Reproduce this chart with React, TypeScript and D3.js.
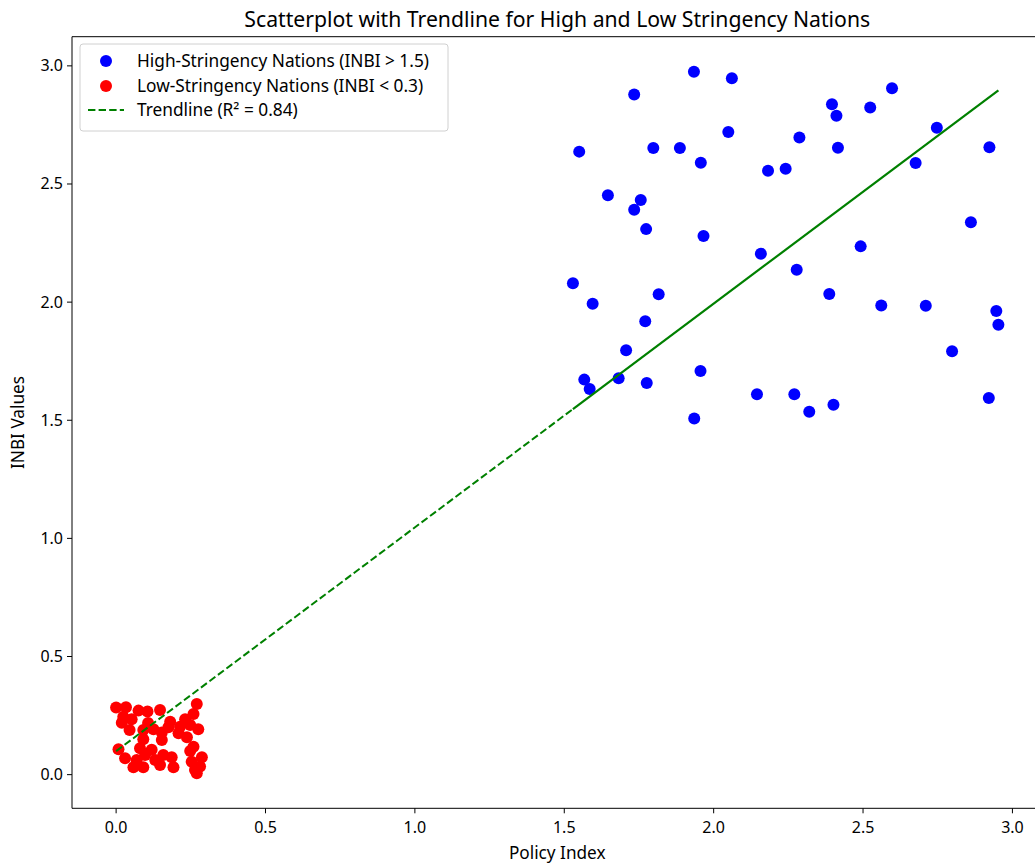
import React from "react";
import * as d3 from "d3";

const highX = [1.934,2.061,1.734,2.049,1.550,1.798,1.887,1.957,2.182,2.241,1.646,1.756,1.734,1.774,1.966,2.158,2.597,2.396,2.411,2.524,2.287,2.416,2.747,2.923,2.676,2.861,2.492,1.529,1.595,1.816,1.771,1.707,1.567,1.585,1.682,1.776,1.956,2.145,1.935,2.278,2.387,2.561,2.710,2.946,2.953,2.798,2.270,2.320,2.401,2.921];
const highY = [2.975,2.948,2.879,2.720,2.637,2.652,2.652,2.590,2.556,2.565,2.452,2.432,2.391,2.309,2.280,2.205,2.905,2.838,2.789,2.824,2.697,2.653,2.738,2.656,2.589,2.338,2.236,2.080,1.993,2.033,1.919,1.796,1.672,1.632,1.678,1.658,1.708,1.610,1.507,2.137,2.034,1.986,1.985,1.962,1.904,1.792,1.610,1.536,1.566,1.594];

const lowX = [0.000,0.033,0.075,0.105,0.147,0.270,0.019,0.052,0.181,0.231,0.259,0.045,0.091,0.125,0.153,0.209,0.275,0.248,0.091,0.153,0.237,0.175,0.008,0.080,0.119,0.248,0.259,0.030,0.069,0.131,0.186,0.287,0.253,0.058,0.091,0.147,0.192,0.264,0.281,0.270,0.107,0.214,0.158,0.097,0.024];
const lowY = [0.284,0.285,0.271,0.267,0.274,0.299,0.220,0.234,0.224,0.234,0.257,0.189,0.189,0.192,0.178,0.175,0.192,0.210,0.150,0.147,0.158,0.201,0.107,0.112,0.105,0.100,0.118,0.069,0.062,0.062,0.074,0.074,0.055,0.031,0.031,0.041,0.031,0.020,0.034,0.006,0.219,0.203,0.083,0.083,0.245];

const trendSlope = 0.947;
const trendIntercept = 0.0995;

const xTicks = [0, 0.5, 1.0, 1.5, 2.0, 2.5, 3.0];
const yTicks = [0, 0.5, 1.0, 1.5, 2.0, 2.5, 3.0];

const legendLabels = [
  "High-Stringency Nations (INBI > 1.5)",
  "Low-Stringency Nations (INBI < 0.3)",
  "Trendline (R\u00b2 = 0.84)",
];

const FONT = "'Noto Sans', 'Open Sans', sans-serif";

export default function App() {
  const W = 1035, H = 866;
  const left = 72, right = 1042.5, top = 36.7, bottom = 808.3;
  const allX = [...highX, ...lowX];
  const allY = [...highY, ...lowY];
  const [x0, x1] = d3.extent(allX) as [number, number];
  const [y0, y1] = d3.extent(allY) as [number, number];
  const px = (x1 - x0) * 0.05, py = (y1 - y0) * 0.05;
  const x = d3.scaleLinear().domain([x0 - px, x1 + px]).range([left, right]);
  const y = d3.scaleLinear().domain([y0 - py, y1 + py]).range([bottom, top]);

  const line = d3.line<number>().x((v) => x(v)).y((v) => y(trendSlope * v + trendIntercept));
  const lowMin = d3.min(lowX) as number;
  const highMin = d3.min(highX) as number;
  const highMax = d3.max(highX) as number;

  const fmt = d3.format(".1f");

  return (
    <svg width={W} height={H} style={{ position: "absolute", left: 0, top: 0, background: "#fff" }} fontFamily={FONT}>
      <rect x={0} y={0} width={W} height={H} fill="#fff" />
      <text x={(left + right) / 2} y={27} textAnchor="middle" fontSize={21.2} fill="#000">
        Scatterplot with Trendline for High and Low Stringency Nations
      </text>
      <g>
        {highX.map((v, i) => (
          <circle key={"h" + i} cx={x(v)} cy={y(highY[i])} r={6} fill="#0000ff" />
        ))}
        {lowX.map((v, i) => (
          <circle key={"l" + i} cx={x(v)} cy={y(lowY[i])} r={6} fill="#ff0000" />
        ))}
        <path d={line([lowMin, highMin]) || ""} fill="none" stroke="#008000" strokeWidth={2} strokeDasharray="7.4,3.2" />
        <path d={line([highMin, highMax]) || ""} fill="none" stroke="#008000" strokeWidth={2.2} />
      </g>
      {/* axes */}
      <line x1={left} x2={right} y1={bottom} y2={bottom} stroke="#000" strokeWidth={1} />
      <line x1={left} x2={left} y1={top} y2={bottom} stroke="#000" strokeWidth={1} />
      <line x1={left} x2={right} y1={top} y2={top} stroke="#000" strokeWidth={1} />
      {xTicks.map((t) => (
        <g key={"xt" + t}>
          <line x1={x(t)} x2={x(t)} y1={bottom} y2={bottom + 5} stroke="#000" />
          <text x={x(t)} y={bottom + 25} textAnchor="middle" fontSize={16} fill="#000">{fmt(t)}</text>
        </g>
      ))}
      {yTicks.map((t) => (
        <g key={"yt" + t}>
          <line x1={left - 5} x2={left} y1={y(t)} y2={y(t)} stroke="#000" />
          <text x={left - 9} y={y(t) + 5.5} textAnchor="end" fontSize={16} fill="#000">{fmt(t)}</text>
        </g>
      ))}
      <text x={(left + right) / 2} y={859} textAnchor="middle" fontSize={17.2} fill="#000">Policy Index</text>
      <text transform={`translate(24, ${(top + bottom) / 2}) rotate(-90)`} textAnchor="middle" fontSize={17.2} fill="#000">INBI Values</text>
      {/* legend */}
      <g>
        <rect x={80} y={44} width={368} height={87} rx={3} fill="#fff" fillOpacity={0.8} stroke="#d0d0d0" />
        <circle cx={106} cy={61} r={6} fill="#0000ff" />
        <circle cx={106} cy={86} r={6} fill="#ff0000" />
        <line x1={88} x2={124} y1={110} y2={110} stroke="#008000" strokeWidth={2} strokeDasharray="7.4,3.2" />
        {legendLabels.map((l, i) => (
          <text key={l} x={137} y={67 + i * 24.5} fontSize={17.3} fill="#000">{l}</text>
        ))}
      </g>
    </svg>
  );
}
